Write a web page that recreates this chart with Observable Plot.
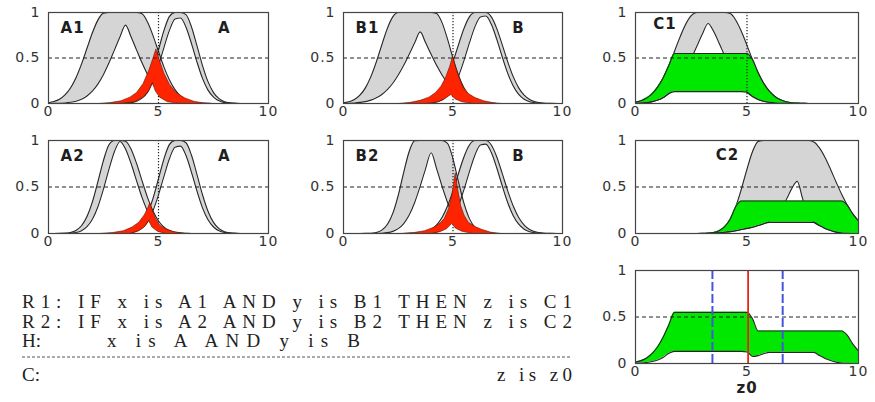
<!DOCTYPE html>
<html><head><meta charset="utf-8">
<script src="https://cdn.jsdelivr.net/npm/d3@7"></script>
<script src="https://cdn.jsdelivr.net/npm/@observablehq/plot@0.6"></script>
<style>
body{margin:0;background:#fff;}
#root{position:relative;width:875px;height:402px;overflow:hidden;background:#fff;}
</style></head><body><div id="root"></div>
<script>
// ---------- data ----------
const X = [0,0.25,0.5,0.75,1,1.25,1.5,1.75,2,2.25,2.5,2.75,3,3.25,3.5,3.75,4,4.25,4.5,4.75,5,5.25,5.5,5.75,6,6.25,6.5,6.75,7,7.25,7.5,7.75,8,8.25,8.5,8.75,9,9.25,9.5,9.75,10];
const xTicks = [0,5,10];
const yTicks = [0,0.5,1];

const Au  = [0,0,0,0,0,0,0,0,0,0,0,0,0,0.002,0.005,0.016,0.044,0.103,0.211,0.377,0.589,0.803,0.958,1,1,0.976,0.841,0.633,0.417,0.24,0.12,0.053,0.02,0.007,0.002,0,0,0,0,0,0];
const Al  = [0,0,0,0,0,0,0,0,0,0,0,0,0,0.001,0.003,0.009,0.024,0.059,0.122,0.246,0.416,0.617,0.806,0.928,0.94,0.838,0.658,0.455,0.276,0.147,0.07,0.029,0.01,0.003,0.001,0,0,0,0,0,0];
const A1u = [0.009,0.022,0.047,0.094,0.17,0.283,0.433,0.607,0.78,0.919,0.993,1,1,1,1,1,1,0.985,0.895,0.746,0.571,0.4,0.258,0.152,0.082,0.041,0.018,0.008,0.003,0.001,0,0,0,0,0,0,0,0,0,0,0];
const A1l = [0,0.001,0.003,0.006,0.013,0.025,0.047,0.083,0.138,0.216,0.32,0.447,0.589,0.733,0.861,0.733,0.589,0.447,0.32,0.216,0.138,0.083,0.047,0.025,0.013,0.006,0.003,0.001,0,0,0,0,0,0,0,0,0,0,0,0,0];
const A2u = [0,0,0.001,0.003,0.011,0.033,0.083,0.182,0.343,0.56,0.787,0.954,1,1,0.992,0.909,0.755,0.569,0.389,0.241,0.135,0.069,0.032,0.013,0.005,0.002,0,0,0,0,0,0,0,0,0,0,0,0,0,0,0];
const A2l = [0,0,0,0.001,0.004,0.011,0.03,0.073,0.156,0.291,0.479,0.693,0.882,0.99,0.909,0.755,0.569,0.389,0.241,0.135,0.069,0.032,0.013,0.005,0.002,0,0,0,0,0,0,0,0,0,0,0,0,0,0,0,0];
const Bu  = [0,0,0,0,0,0,0,0,0,0,0,0,0.001,0.003,0.008,0.019,0.044,0.091,0.172,0.295,0.458,0.644,0.823,0.952,1,1,1,0.952,0.823,0.644,0.458,0.295,0.172,0.091,0.044,0.019,0.008,0.003,0.001,0,0];
const Bl  = [0,0,0,0,0,0,0,0,0,0,0,0,0,0,0,0.002,0.006,0.016,0.039,0.086,0.17,0.3,0.472,0.666,0.842,0.951,0.961,0.87,0.704,0.511,0.331,0.192,0.1,0.046,0.019,0.007,0.002,0,0,0,0];
const B1u = [0.008,0.019,0.044,0.091,0.172,0.295,0.458,0.644,0.823,0.952,1,1,1,1,1,1,1,0.99,0.889,0.707,0.498,0.311,0.172,0.085,0.037,0.014,0.005,0.001,0,0,0,0,0,0,0,0,0,0,0,0,0];
const B1l = [0.001,0.003,0.006,0.012,0.021,0.037,0.062,0.099,0.152,0.223,0.313,0.42,0.541,0.667,0.787,0.667,0.541,0.42,0.313,0.223,0.152,0.099,0.062,0.037,0.021,0.012,0.004,0.001,0,0,0,0,0,0,0,0,0,0,0,0,0];
const B2u = [0,0,0,0,0.001,0.003,0.011,0.036,0.096,0.216,0.411,0.657,0.882,0.997,1,1,1,1,1,0.969,0.801,0.556,0.325,0.16,0.066,0.023,0.007,0.002,0,0,0,0,0,0,0,0,0,0,0,0,0];
const B2l = [0,0,0,0,0,0,0.001,0.003,0.009,0.023,0.052,0.107,0.199,0.334,0.507,0.698,0.868,0.698,0.507,0.334,0.199,0.107,0.052,0.023,0.009,0.003,0.001,0,0,0,0,0,0,0,0,0,0,0,0,0,0];
const C1u = [0.015,0.031,0.06,0.109,0.183,0.287,0.42,0.575,0.732,0.871,0.966,1,1,1,1,1,1,0.988,0.915,0.791,0.639,0.48,0.338,0.221,0.135,0.077,0.041,0.02,0.009,0.004,0.002,0,0,0,0,0,0,0,0,0,0];
const C1l = [0.003,0.005,0.011,0.021,0.038,0.067,0.11,0.173,0.258,0.366,0.492,0.629,0.763,0.879,0.793,0.662,0.524,0.394,0.282,0.191,0.123,0.076,0.044,0.024,0.013,0.006,0.003,0.001,0,0,0,0,0,0,0,0,0,0,0,0,0];
const C2u = [0,0,0,0,0,0,0,0,0,0,0,0,0.001,0.004,0.011,0.03,0.073,0.156,0.291,0.479,0.693,0.882,0.99,1,1,1,1,1,1,1,1,1,0.984,0.92,0.817,0.689,0.551,0.419,0.303,0.208,0.135];
const C2l = [0,0,0,0,0,0,0,0,0,0,0,0,0,0,0.004,0.008,0.013,0.02,0.03,0.043,0.055,0.068,0.085,0.105,0.135,0.19,0.27,0.36,0.48,0.56,0.37,0.2,0.12,0.085,0.055,0.032,0.015,0.006,0.002,0,0];

// firing intervals [lower, upper] of the two rules
const fire1 = [0.13, 0.55];
const fire2 = [0.12, 0.35];

// red (meet) regions: upper and lower boundaries, [x, y]
const red1Upper = [[2.3,0],[2.8,0.01],[3.3,0.03],[3.7,0.07],[4.0,0.12],[4.3,0.22],[4.55,0.36],[4.75,0.5],[4.88,0.6],[5.05,0.47],[5.25,0.33],[5.5,0.21],[5.8,0.12],[6.2,0.06],[6.6,0.025],[7.0,0.008],[7.4,0]];
const red1Lower = [[3.3,0],[3.9,0.02],[4.3,0.07],[4.55,0.14],[4.72,0.23],[4.85,0.14],[5.05,0.07],[5.4,0.02],[6.0,0]];
const red2Upper = [[2.5,0],[3.0,0.01],[3.5,0.035],[3.9,0.07],[4.2,0.12],[4.45,0.19],[4.65,0.28],[4.85,0.41],[4.98,0.52],[5.1,0.41],[5.25,0.3],[5.45,0.18],[5.7,0.11],[6.0,0.065],[6.4,0.03],[6.8,0.01],[7.2,0]];
const red2Lower = [[3.8,0],[4.3,0.02],[4.6,0.05],[4.9,0.1],[5.1,0.05],[5.4,0.02],[5.9,0]];
const red4Upper = [[2.3,0],[2.9,0.01],[3.4,0.03],[3.8,0.07],[4.1,0.12],[4.35,0.2],[4.5,0.27],[4.6,0.33],[4.72,0.25],[4.85,0.17],[5.05,0.09],[5.35,0.045],[5.7,0.02],[6.2,0]];
const red4Lower = [[3.7,0],[4.1,0.03],[4.35,0.07],[4.55,0.14],[4.7,0.07],[4.95,0.025],[5.3,0]];
const red5Upper = [[2.6,0],[3.2,0.01],[3.7,0.03],[4.1,0.065],[4.4,0.11],[4.6,0.16],[4.8,0.27],[4.95,0.42],[5.1,0.65],[5.22,0.47],[5.35,0.3],[5.5,0.2],[5.7,0.12],[6.0,0.075],[6.3,0.045],[6.7,0.015],[7.2,0]];
const red5Lower = [[4.0,0],[4.4,0.02],[4.7,0.05],[4.95,0.11],[5.1,0.06],[5.4,0.025],[5.9,0]];

const inputX = 5;            // dotted input marker
const z0 = 5.05;             // output (red)
const z0Interval = [3.45, 6.6]; // blue dashed bounds

const ruleLines = ["R1: IF x is A1 AND y is B1 THEN z is C1", "R2: IF x is A2 AND y is B2 THEN z is C2"];
const premise = ["H:", "x is A  AND  y is B"];
const conclusion = ["C:", "z is z0"];

// ---------- drawing ----------
const root = document.getElementById("root");
const GRAY = "#d5d5d5", EDGE = "#262626", RED = "#ff2400", GREEN = "#00e800";
const CURVE = "monotone-x";

function bandFill(lo, hi) {
  return Plot.areaY(X, {x: X, y1: lo, y2: hi, fill: GRAY, curve: CURVE});
}
function edge(v) {
  return Plot.line(X, {x: X, y: v, stroke: EDGE, strokeWidth: 1.1, curve: CURVE});
}
function redPoly(up, low) {
  const poly = up.concat(low.slice().reverse());
  return Plot.line(poly, {x: d => d[0], y: d => d[1], fill: RED, stroke: "#6a1000", strokeWidth: 0.6, curve: "linear"});
}
const half = () => Plot.ruleY([0.5], {stroke: "#222", strokeWidth: 1, strokeDasharray: "4,3"});
const dotted = () => Plot.ruleX([inputX], {stroke: "#222", strokeWidth: 1.2, strokeDasharray: "1.2,1.8"});
function label(txt, x, y) {
  return Plot.text([txt], {x: () => x, y: () => y, text: d => d, textAnchor: "start", fontWeight: "bold", fontSize: 15, fill: "#1e1e1e"});
}

function panel(left, top, w, h, marks) {
  const ml = 46, mr = 18, mt = 8, mb = 26;
  const svg = Plot.plot({
    width: w + ml + mr, height: h + mt + mb,
    marginLeft: ml, marginRight: mr, marginTop: mt, marginBottom: mb,
    x: {domain: [0, 10], ticks: xTicks, tickFormat: d => String(d), tickSize: 0, tickPadding: 3, label: null},
    y: {domain: [0, 1], ticks: yTicks, tickFormat: d => String(d), tickSize: 0, tickPadding: 8, label: null},
    style: {fontFamily: "'DejaVu Sans', sans-serif", fontSize: "14px", color: "#333", background: "transparent", overflow: "visible", letterSpacing: "1px"},
    marks: [...marks, Plot.frame({stroke: "#444", strokeWidth: 1.2})]
  });
  Object.assign(svg.style, {position: "absolute", left: (left - ml) + "px", top: (top - mt) + "px"});
  root.appendChild(svg);
}

function abPanel(left, top, w, h, rlo, rhi, ilo, ihi, redUp, redLow, rName, iName) {
  panel(left, top, w, h, [
    bandFill(rlo, rhi), bandFill(ilo, ihi),
    edge(rhi), edge(rlo), edge(ihi), edge(ilo),
    dotted(),
    redPoly(redUp, redLow),
    half(),
    label(rName, 0.55, 0.83),
    label(iName, 7.7, 0.83)
  ]);
}

function cPanel(left, top, w, h, lo, hi, fire, name, nx, ny, withDot) {
  const gLo = lo.map(v => Math.min(v, fire[0]));
  const gHi = hi.map(v => Math.min(v, fire[1]));
  panel(left, top, w, h, [
    bandFill(lo, hi), edge(hi), edge(lo),
    Plot.areaY(X, {x: X, y1: gLo, y2: gHi, fill: GREEN, curve: CURVE}),
    edge(gHi), edge(gLo),
    ...(withDot ? [dotted()] : []),
    half(),
    label(name, nx, ny)
  ]);
}

// Row 1
abPanel(48, 12, 220, 91, A1l, A1u, Al, Au, red1Upper, red1Lower, "A1", "A");
abPanel(343, 12, 219, 91, B1l, B1u, Bl, Bu, red2Upper, red2Lower, "B1", "B");
cPanel(635, 12, 223, 91, C1l, C1u, fire1, "C1", 0.8, 0.87, true);
// Row 2
abPanel(48, 140, 220, 93, A2l, A2u, Al, Au, red4Upper, red4Lower, "A2", "A");
abPanel(343, 140, 219, 93, B2l, B2u, Bl, Bu, red5Upper, red5Lower, "B2", "B");
cPanel(635, 140, 223, 93, C2l, C2u, fire2, "C2", 3.6, 0.84, false);

// Row 3: aggregated output
{
  const up = X.map((_, i) => Math.max(Math.min(C1u[i], fire1[1]), Math.min(C2u[i], fire2[1])));
  const lo = X.map((_, i) => Math.max(Math.min(C1l[i], fire1[0]), Math.min(C2l[i], fire2[0])));
  panel(635, 270, 223, 93, [
    Plot.areaY(X, {x: X, y1: lo, y2: up, fill: GREEN, curve: CURVE}),
    edge(up), edge(lo),
    half(),
    Plot.ruleX(z0Interval, {stroke: "#4656dc", strokeWidth: 2, strokeDasharray: "9,3"}),
    Plot.ruleX([z0], {stroke: "#e8231a", strokeWidth: 1.8}),
    Plot.text(["z0"], {frameAnchor: "bottom", dy: 29, text: d => d, fontSize: 15, fontWeight: "bold", fill: "#222"})
  ]);
}

// Text block
{
  const svg = d3.create("svg").attr("width", 600).attr("height", 120)
    .style("position", "absolute").style("left", "0px").style("top", "280px")
    .style("white-space", "pre");
  const g = svg.append("g").attr("fill", "#222")
    .attr("font-family", "'Liberation Serif', 'Times New Roman', serif").attr("font-size", 19);
  ruleLines.forEach((t, i) => {
    g.append("text").attr("x", 22).attr("y", 28 + i * 20).attr("textLength", 550).attr("lengthAdjust", "spacing").text(t);
  });
  g.append("text").attr("x", 22).attr("y", 67).text(premise[0]);
  g.append("text").attr("x", 107).attr("y", 67).attr("textLength", 253).attr("lengthAdjust", "spacing").text(premise[1]);
  svg.append("line").attr("x1", 22).attr("x2", 572).attr("y1", 77).attr("y2", 77)
    .attr("stroke", "#555").attr("stroke-width", 1).attr("stroke-dasharray", "3,2");
  g.append("text").attr("x", 22).attr("y", 101).text(conclusion[0]);
  g.append("text").attr("x", 572).attr("y", 101).attr("text-anchor", "end").attr("textLength", 75).attr("lengthAdjust", "spacing").text(conclusion[1]);
  root.appendChild(svg.node());
}
</script>
</body></html>
